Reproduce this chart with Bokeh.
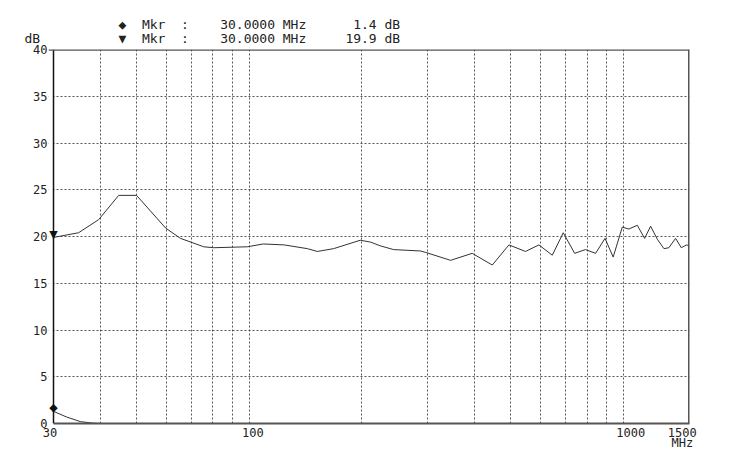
from bokeh.plotting import figure
from bokeh.models import Range1d, FixedTicker, NumeralTickFormatter, Title, Span, BoxAnnotation, ColumnDataSource
from bokeh.core.properties import value
from bokeh.embed import file_html
from bokeh.resources import INLINE

# ---- data ----
freq_upper = [30, 35, 39.6, 44.8, 50, 59.8, 65.5, 75.6, 80.4, 98.8, 109, 124, 143, 152,
              168, 198, 211, 224, 243, 287, 296, 345, 394, 446, 494, 547, 594, 645, 690,
              740, 791, 842, 892, 938, 992, 1033, 1088, 1138, 1181, 1231, 1282, 1321,
              1377, 1426, 1473, 1500]
db_upper = [19.9, 20.4, 21.8, 24.4, 24.4, 20.9, 19.8, 18.9, 18.8, 18.9, 19.2, 19.1, 18.7, 18.4,
            18.7, 19.6, 19.4, 19.0, 18.6, 18.45, 18.3, 17.45, 18.2, 16.95, 19.1, 18.4, 19.1, 18.0, 20.4,
            18.2, 18.6, 18.2, 19.8, 17.8, 21.0, 20.8, 21.2, 19.8, 21.1, 19.7, 18.7, 18.8,
            19.8, 18.8, 19.1, 19.0]

freq_lower = [30, 32.5, 35.4, 38, 40, 45, 1500]
db_lower = [1.3, 0.7, 0.2, 0.05, 0.0, 0.0, 0.0]

mkr_freq = [30.0, 30.0]
mkr_db = [1.4, 19.9]
mkr_symbols = ["\u25C6", "\u25BC"]

NB = "\u00a0"
x_ticks = [30, 100, 1000, 1500]
x_tick_labels = {30: "30" + NB, 100: NB + "100", 1000: NB * 2 + "1000",
                 1500: "1500" + NB * 2 + "\n" + "MHz" + NB * 2}
y_ticks = [0, 5, 10, 15, 20, 25, 30, 35, 40]
x_grid = [40, 50, 60, 70, 80, 90, 100, 200, 300, 400, 500, 600, 700, 800, 900, 1000]
y_grid = [5, 10, 15, 20, 25, 30, 35]
x_min, x_max = 30, 1500
y_min, y_max = 0, 40

MONO = "DejaVu Sans Mono"
SYM = "DejaVu Sans"
INK = "#333333"
TXT = "#222222"

# small left pad (in log space) so the markers sitting on the 30 MHz edge are not clipped
pad = 10 ** (-5 / 374.3)

p = figure(width=719, height=456, x_axis_type="log",
           x_range=Range1d(x_min * pad, x_max), y_range=Range1d(y_min, y_max),
           output_backend="svg", toolbar_location=None,
           min_border_left=48, min_border_right=30,
           min_border_top=49, min_border_bottom=33)

p.background_fill_color = "white"
p.border_fill_color = "white"
p.outline_line_color = None

# grids
p.xgrid.ticker = FixedTicker(ticks=x_grid)
p.ygrid.ticker = FixedTicker(ticks=y_grid)
for g in (p.xgrid, p.ygrid):
    g.grid_line_color = "#444444"
    g.grid_line_dash = "2 2"
    g.grid_line_width = 1
    g.grid_line_alpha = 0.9
# mask the sliver left of 30 MHz
p.add_layout(BoxAnnotation(right=x_min, fill_color="white", fill_alpha=1.0,
                           line_alpha=0, level="underlay"))

# axes
p.xaxis.ticker = FixedTicker(ticks=x_ticks)
p.xaxis.formatter = NumeralTickFormatter(format="0")
p.xaxis.major_label_overrides = x_tick_labels
p.yaxis.ticker = FixedTicker(ticks=y_ticks)
for ax in (p.xaxis, p.yaxis):
    ax.major_tick_line_color = None
    ax.minor_tick_line_color = None
    ax.major_tick_out = 0
    ax.major_tick_in = 0
    ax.minor_tick_out = 0
    ax.major_label_text_font = MONO
    ax.major_label_text_font_size = "12px"
    ax.major_label_text_color = TXT
p.yaxis.axis_line_color = None
p.yaxis.major_label_standoff = 1
p.xaxis.bounds = (x_min, x_max)
p.xaxis.axis_line_color = "#555555"
p.xaxis.axis_line_width = 2
p.xaxis.major_label_standoff = 2
p.xaxis.major_label_text_line_height = 0.72

# frame borders
p.add_layout(Span(location=x_min, dimension="height", line_color="#111111", line_width=1.5))
p.add_layout(Span(location=x_max, dimension="height", line_color="#555555", line_width=3))
p.add_layout(Span(location=y_max, dimension="width", line_color="#555555", line_width=2.5))

# traces
p.line(freq_upper, db_upper, line_color=INK, line_width=1)
p.line(freq_lower, db_lower, line_color=INK, line_width=1)

# markers on the traces
msrc = ColumnDataSource(dict(x=mkr_freq, y=mkr_db, s=mkr_symbols))
p.text(x="x", y="y", text="s", source=msrc, text_align="center", text_baseline="middle",
       y_offset=-3, text_font=value(SYM), text_font_size="11px", text_color="#111111")

# header marker readout (monospace rows)
def row(prefix, i):
    f = f"{mkr_freq[i]:.4f}"
    d = f"{mkr_db[i]:.1f}".rjust(4, NB)
    return (prefix + mkr_symbols[i] + NB * 2 + "Mkr" + NB * 2 + ":" + NB * 4 + f + NB + "MHz"
            + NB * 5 + d + NB + "dB")

row1 = row(NB * 12, 0)
row2 = row("dB" + NB * 10, 1)
p.add_layout(Title(text=row1 + "\n" + row2, align="left", offset=-24, text_font=MONO,
                   text_font_size="13px", text_font_style="normal", text_color=TXT,
                   text_line_height=0.92, standoff=7), "above")

open("out.html", "w").write(file_html(p, INLINE))
